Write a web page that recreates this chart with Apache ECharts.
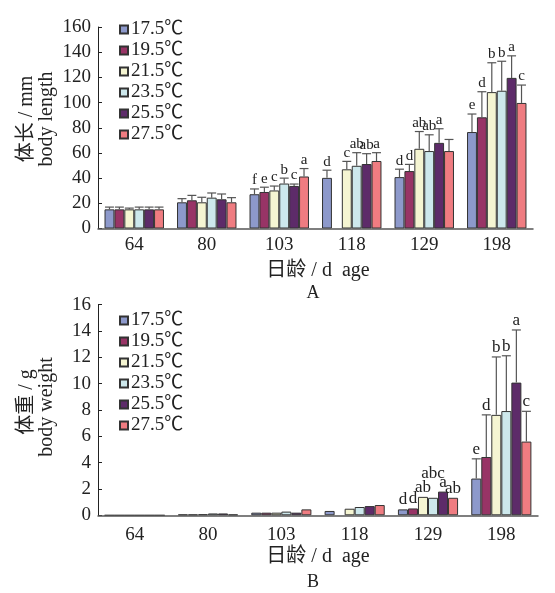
<!DOCTYPE html>
<html>
<head>
<meta charset="utf-8">
<script src="https://cdn.jsdelivr.net/npm/echarts@6/dist/echarts.min.js"></script>
<style>
  html, body { margin: 0; padding: 0; background: #fff; }
  #chart { width: 555px; height: 593px; }
</style>
</head>
<body>
<div id="chart"></div>
<script>
// 日龄
const ages = ['64', '80', '103', '118', '129', '198']
const temps = ['17.5℃', '19.5℃', '21.5℃', '23.5℃', '25.5℃', '27.5℃']

// A 体长 body length (mm), one row per temperature
const lengthMean = [
  [15.2, 20.8, 27.2, 40.2, 40.8, 76.6],
  [15.2, 22.4, 29.0, null, 45.6, 88.3],
  [15.2, 20.8, 30.2, 47.0, 63.3, 108.3],
  [15.2, 24.5, 35.7, 49.8, 61.5, 109.4],
  [15.2, 23.2, 33.8, 51.2, 68.0, 119.6],
  [15.2, 20.8, 41.3, 53.6, 61.5, 99.7]
]
const lengthErr = [
  [1.8, 2.9, 4.2, 6.1, 6.3, 14.3],
  [1.8, 3.9, 3.8, null, 5.3, 20.3],
  [1.0, 4.0, 3.5, 6.3, 13.7, 23.3],
  [1.8, 3.7, 4.3, 10.4, 12.9, 23.4],
  [1.8, 4.2, 1.5, 8.2, 11.2, 17.5],
  [1.8, 3.7, 6.3, 6.6, 9.2, 14.2]
]
const lengthLetters = [
  ['', '', 'f', 'd', 'd', 'e'],
  ['', '', 'e', '', 'd', 'd'],
  ['', '', 'c', 'c', 'ab', 'b'],
  ['', '', 'b', 'ab', 'ab', 'b'],
  ['', '', 'c', 'ab', 'a', 'a'],
  ['', '', 'a', 'a', '', 'c']
]

// B 体重 body weight (g)
const weightMean = [
  [0, 0.06, 0.2, 0.33, 0.45, 2.79],
  [0, 0.06, 0.2, null, 0.52, 4.43],
  [0, 0.08, 0.2, 0.5, 1.4, 7.63],
  [0, 0.14, 0.28, 0.63, 1.33, 7.92],
  [0, 0.14, 0.2, 0.7, 1.8, 10.08],
  [0, 0.06, 0.45, 0.78, 1.33, 5.6]
]
const weightErr = [
  [0, 0, 0, 0, 0, 1.5],
  [0, 0, 0, null, 0, 3.2],
  [0, 0, 0, 0, 0, 4.4],
  [0, 0, 0, 0, 0, 4.2],
  [0, 0, 0, 0, 0, 4.0],
  [0, 0, 0, 0, 0, 2.3]
]
const weightLetters = [
  ['', '', '', '', 'd', 'e'],
  ['', '', '', '', 'd', 'd'],
  ['', '', '', '', 'ab', 'b'],
  ['', '', '', '', 'abc', 'b'],
  ['', '', '', '', 'a', 'a'],
  ['', '', '', '', 'ab', 'c']
]

const colors = ['#8d99cb', '#983466', '#f5f5d2', '#cde8ec', '#5d2b69', '#ef7c81']
const CAT_GAP = 0.18
const SERIF = '"Liberation Serif", "Noto Sans CJK SC", serif'

const chart = echarts.init(document.getElementById('chart'))

function errorRender (g, i, letters, fontSize) {
  return function (params, api) {
    const k = api.value(0)
    const mean = api.value(1)
    const err = api.value(2) || 0
    if (isNaN(mean)) return null
    const band = api.size([1, 0])[0]
    const bw = band * (1 - CAT_GAP) / temps.length
    const x = api.coord([k, 0])[0] + bw * (i - (temps.length - 1) / 2)
    const yBar = api.coord([k, mean])[1]
    const yTop = api.coord([k, mean + err])[1]
    const children = []
    if (err > 0) {
      children.push({
        type: 'line',
        shape: { x1: x, y1: yBar, x2: x, y2: yTop },
        style: { stroke: '#555', lineWidth: 1.2 }
      })
      children.push({
        type: 'line',
        shape: { x1: x - bw * 0.45, y1: yTop, x2: x + bw * 0.45, y2: yTop },
        style: { stroke: '#555', lineWidth: 1.2 }
      })
    }
    const letter = letters[i][params.dataIndex]
    if (letter) {
      // abc 在图B中抬高避免与邻近字母重叠
      const lift = letter === 'abc' ? 15 : 0
      children.push({
        type: 'text',
        x: x,
        y: yTop - 1 - lift,
        style: {
          text: letter,
          align: 'center',
          verticalAlign: 'bottom',
          fontFamily: SERIF,
          fontSize: fontSize,
          fill: '#222'
        }
      })
    }
    return { type: 'group', children: children }
  }
}

const series = []
;[[lengthMean, lengthErr, lengthLetters, 15], [weightMean, weightErr, weightLetters, 17]].forEach((set, g) => {
  const [mean, err, letters, fs] = set
  temps.forEach((t, i) => {
    series.push({
      name: t,
      type: 'bar',
      xAxisIndex: g,
      yAxisIndex: g,
      barGap: '0%',
      barCategoryGap: (CAT_GAP * 100) + '%',
      itemStyle: { color: colors[i], borderColor: '#333', borderWidth: 1 },
      data: mean[i]
    })
  })
  temps.forEach((t, i) => {
    series.push({
      name: 'err' + g + i,
      type: 'custom',
      xAxisIndex: g,
      yAxisIndex: g,
      z: 5,
      renderItem: errorRender(g, i, letters, fs),
      encode: { x: 0, y: 1 },
      data: ages.map((a, k) => [k, mean[i][k] == null ? NaN : mean[i][k], err[i][k] || 0])
    })
  })
})

function xAxis (g) {
  return {
    type: 'category',
    gridIndex: g,
    data: ages,
    z: 3,
    axisLine: { lineStyle: { color: '#555', width: 1.5 } },
    axisTick: { inside: true, length: 4, lineStyle: { color: '#444' } },
    axisLabel: { color: '#222', fontFamily: SERIF, fontSize: 19, margin: g === 0 ? 7 : 10 }
  }
}

function yAxis (g, max, interval) {
  return {
    type: 'value',
    gridIndex: g,
    min: 0,
    max: max,
    interval: interval,
    axisLine: { show: true, lineStyle: { color: '#222', width: 1 } },
    axisTick: { show: true, inside: true, length: 4, lineStyle: { color: '#222' } },
    splitLine: { show: false },
    axisLabel: { color: '#222', fontFamily: SERIF, fontSize: 19, margin: 7 }
  }
}

function legend (top) {
  return {
    data: temps,
    orient: 'vertical',
    left: 114,
    top: top,
    icon: 'rect',
    itemWidth: 8,
    itemHeight: 8,
    itemGap: 2,
    textStyle: { color: '#222', fontFamily: SERIF, fontSize: 19, lineHeight: 19, padding: [0, 0, 0, -2] }
  }
}

function label (text, x, y, rotate, size) {
  return {
    type: 'text',
    x: x,
    y: y,
    rotation: rotate ? Math.PI / 2 : 0,
    style: {
      text: text,
      align: 'center',
      verticalAlign: 'middle',
      fontFamily: SERIF,
      fontSize: size,
      fill: '#222'
    }
  }
}

const option = {
  backgroundColor: '#fff',
  animation: false,
  grid: [
    { left: 98, right: 22, top: 27, height: 201.5 },
    { left: 98, right: 17, top: 304.7, height: 210.6 }
  ],
  xAxis: [xAxis(0), xAxis(1)],
  yAxis: [yAxis(0, 160, 20), yAxis(1, 16, 2)],
  legend: [legend(15), legend(306)],
  graphic: [
    label('体长 / mm', 27, 119, true, 20),
    label('body length', 47, 119, true, 20),
    label('日龄 / d  age', 318, 271, false, 20),
    label('A', 313, 293, false, 18),
    label('体重 / g', 27, 402, true, 20),
    label('body weight', 47, 407, true, 20),
    label('日龄 / d  age', 318, 557, false, 20),
    label('B', 313, 582, false, 18)
  ],
  series: series
}

chart.setOption(option)
</script>
</body>
</html>
